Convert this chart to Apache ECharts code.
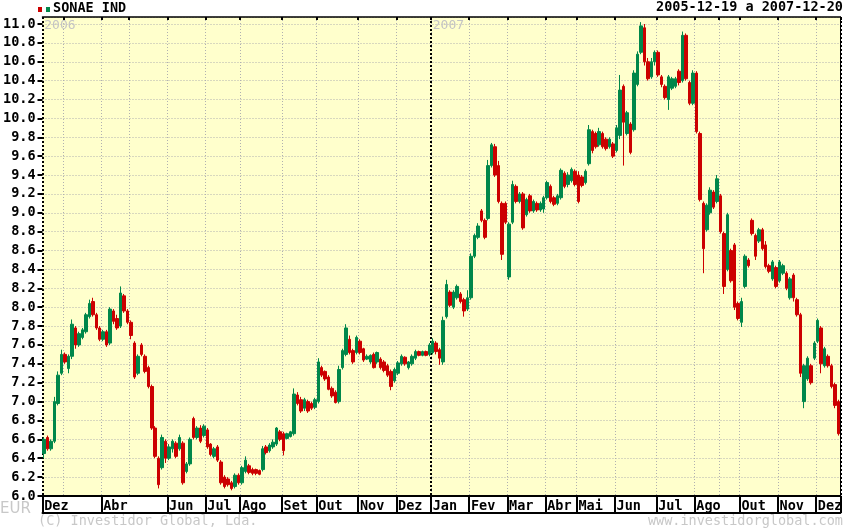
<!DOCTYPE html>
<html><head><meta charset="utf-8">
<script src="https://cdn.jsdelivr.net/npm/echarts@6/dist/echarts.min.js"></script>
<style>html,body{margin:0;padding:0;background:#fff}#c{width:845px;height:528px}</style>
</head><body><div id="c"></div>
<script>
const opens = [
6.45,6.62,6.5,6.58,6.98,7.3,7.5,7.35,7.48,7.78,
7.6,7.68,7.74,7.9,8.06,7.92,7.78,7.66,7.74,7.62,
7.96,7.88,7.8,8.12,7.96,7.84,7.62,7.3,7.6,7.48,
7.36,7.16,6.72,6.4,6.3,6.58,6.4,6.5,6.56,6.5,
6.56,6.26,6.34,6.82,6.62,6.72,6.64,6.7,6.55,6.42,
6.52,6.36,6.2,6.18,6.14,6.1,6.22,6.14,6.26,6.32,
6.28,6.28,6.27,6.28,6.52,6.48,6.52,6.55,6.68,6.66,
6.61,6.63,6.66,7.07,7.02,6.93,7.0,6.98,6.94,7.0,
7.36,7.32,7.26,7.14,7.1,7.0,7.36,7.5,7.66,7.54,
7.52,7.64,7.56,7.45,7.42,7.5,7.42,7.45,7.42,7.38,
7.32,7.22,7.3,7.4,7.47,7.36,7.4,7.46,7.53,7.49,
7.53,7.5,7.52,7.62,7.55,7.42,7.9,8.16,8.0,8.1,
8.14,8.08,7.98,8.1,8.54,8.74,9.02,8.92,8.94,9.5,
9.7,9.5,9.1,9.1,8.32,8.9,9.28,9.12,9.2,8.98,
9.18,9.02,9.1,9.03,9.04,9.16,9.28,9.16,9.1,9.16,
9.42,9.3,9.34,9.44,9.4,9.38,9.32,9.52,9.86,9.84,
9.72,9.84,9.78,9.7,9.73,9.66,9.82,10.34,9.84,9.94,
9.88,10.36,10.7,10.96,10.6,10.44,10.6,10.7,10.44,10.34,
10.2,10.32,10.34,10.5,10.4,10.88,10.38,10.16,10.48,9.84,
9.1,8.82,9.0,9.22,9.12,9.18,8.78,8.4,8.6,8.66,
8.04,7.84,8.22,8.5,8.92,8.76,8.7,8.82,8.66,8.44,
8.3,8.42,8.28,8.36,8.36,8.1,8.34,8.08,7.92,7.0,
7.24,7.38,7.46,7.64,7.78,7.38,7.48,7.38,7.18,7.0
];
const closes = [
6.6,6.5,6.58,7.0,7.28,7.5,7.42,7.48,7.82,7.6,
7.72,7.76,7.92,8.04,7.92,7.78,7.66,7.74,7.6,7.98,
7.85,7.78,8.15,7.96,7.84,7.7,7.26,7.48,7.5,7.32,
7.16,6.72,6.42,6.12,6.62,6.4,6.52,6.58,6.42,6.62,
6.14,6.34,6.6,6.62,6.72,6.58,6.74,6.52,6.44,6.5,
6.38,6.14,6.1,6.12,6.08,6.22,6.14,6.3,6.38,6.25,
6.24,6.24,6.23,6.5,6.46,6.54,6.57,6.72,6.6,6.48,
6.66,6.68,7.08,6.98,6.9,7.02,6.9,6.93,7.02,7.42,
7.28,7.24,7.13,7.06,6.99,7.34,7.54,7.78,7.52,7.42,
7.68,7.52,7.44,7.48,7.49,7.36,7.52,7.36,7.33,7.28,
7.16,7.34,7.41,7.48,7.4,7.42,7.48,7.53,7.49,7.53,
7.49,7.6,7.64,7.53,7.46,7.86,8.24,8.02,8.16,8.22,
8.06,7.96,8.1,8.54,8.76,8.86,8.92,8.74,9.5,9.72,
9.4,9.12,8.56,8.9,8.88,9.3,9.12,9.2,8.84,9.14,
9.02,9.12,9.03,9.1,9.16,9.32,9.12,9.09,9.18,9.45,
9.28,9.4,9.46,9.3,9.12,9.29,9.44,9.88,9.66,9.7,
9.86,9.7,9.68,9.78,9.6,9.9,10.3,9.96,10.06,9.64,
10.48,10.68,10.98,10.6,10.42,10.6,10.7,10.46,10.36,10.22,
10.44,10.42,10.42,10.38,10.88,10.42,10.16,10.48,9.86,9.14,
8.62,9.08,9.24,9.06,9.36,8.8,8.22,8.98,8.28,8.0,
7.88,8.06,8.54,8.44,8.78,8.54,8.82,8.62,8.43,8.38,
8.48,8.22,8.48,8.44,8.2,8.3,8.1,7.92,7.3,7.38,
7.46,7.2,7.62,7.86,7.4,7.56,7.38,7.16,6.96,6.66
];
const lows = [
6.4,6.48,6.48,6.56,6.96,7.28,7.4,7.3,7.45,7.56,
7.58,7.66,7.72,7.88,7.9,7.76,7.64,7.64,7.58,7.6,
7.82,7.76,7.78,7.94,7.82,7.66,7.24,7.28,7.48,7.3,
7.14,6.7,6.4,6.08,6.28,6.35,6.38,6.46,6.4,6.48,
6.12,6.24,6.32,6.6,6.6,6.56,6.62,6.5,6.42,6.4,
6.36,6.12,6.08,6.1,6.06,6.08,6.12,6.12,6.24,6.23,
6.22,6.22,6.22,6.26,6.44,6.46,6.5,6.53,6.58,6.43,
6.6,6.62,6.64,6.96,6.88,6.9,6.88,6.91,6.92,6.98,
7.26,7.22,7.12,7.04,6.98,6.98,7.34,7.48,7.5,7.4,
7.5,7.5,7.42,7.44,7.4,7.35,7.4,7.34,7.31,7.26,
7.12,7.2,7.28,7.38,7.38,7.34,7.38,7.44,7.48,7.48,
7.48,7.48,7.5,7.5,7.39,7.39,7.88,8.0,7.98,8.08,
8.04,7.9,7.96,8.08,8.52,8.72,8.9,8.72,8.92,9.48,
9.38,9.1,8.5,8.88,8.29,8.88,9.1,9.1,8.82,8.96,
9.0,9.0,9.01,9.01,9.0,9.14,9.1,9.07,9.08,9.14,
9.26,9.27,9.32,9.28,9.1,9.27,9.3,9.5,9.63,9.68,
9.7,9.68,9.66,9.68,9.58,9.64,9.78,9.5,9.82,9.62,
9.86,10.34,10.68,10.56,10.4,10.42,10.56,10.44,10.33,10.2,
10.09,10.3,10.32,10.35,10.38,10.4,10.14,10.14,9.84,9.12,
8.36,8.8,8.98,9.04,9.1,8.78,8.14,8.38,8.26,7.97,
7.86,7.79,8.2,8.42,8.76,8.5,8.68,8.6,8.41,8.36,
8.28,8.2,8.26,8.34,8.18,8.08,8.06,7.9,7.26,6.93,
7.22,7.18,7.44,7.62,7.3,7.36,7.36,7.14,6.93,6.64
];
const highs = [
6.62,6.64,6.6,7.05,7.32,7.55,7.52,7.5,7.87,7.8,
7.74,7.78,7.94,8.08,8.1,7.94,7.8,7.76,7.76,8.0,
7.98,7.92,8.22,8.14,7.98,7.86,7.64,7.5,7.62,7.5,
7.38,7.18,6.74,6.42,6.65,6.6,6.55,6.6,6.58,6.65,
6.58,6.36,6.62,6.84,6.74,6.75,6.76,6.72,6.56,6.52,
6.54,6.38,6.22,6.2,6.16,6.24,6.24,6.32,6.42,6.34,
6.3,6.29,6.28,6.53,6.54,6.56,6.6,6.73,6.7,6.68,
6.67,6.69,7.14,7.1,7.05,7.04,7.02,7.0,7.04,7.46,
7.38,7.33,7.28,7.16,7.12,7.38,7.56,7.82,7.7,7.56,
7.7,7.66,7.57,7.5,7.5,7.52,7.53,7.47,7.44,7.4,
7.34,7.36,7.43,7.5,7.48,7.43,7.5,7.55,7.54,7.54,
7.54,7.62,7.67,7.64,7.57,7.9,8.29,8.18,8.18,8.24,
8.16,8.1,8.18,8.57,8.78,8.89,9.04,8.94,9.56,9.74,
9.73,9.55,9.12,9.12,8.9,9.34,9.3,9.22,9.22,9.16,
9.2,9.14,9.12,9.12,9.18,9.34,9.3,9.18,9.2,9.47,
9.44,9.43,9.48,9.46,9.44,9.4,9.46,9.93,9.88,9.86,
9.9,9.86,9.8,9.8,9.75,9.93,10.46,10.36,10.08,9.96,
10.51,10.71,11.02,11.0,10.64,10.64,10.72,10.72,10.46,10.36,
10.46,10.44,10.44,10.52,10.92,10.9,10.4,10.51,10.5,9.86,
9.12,9.1,9.27,9.24,9.4,9.2,8.8,9.0,8.62,8.68,
8.06,8.1,8.56,8.52,8.94,8.78,8.84,8.84,8.7,8.46,
8.5,8.44,8.5,8.46,8.38,8.32,8.36,8.1,7.94,7.4,
7.48,7.4,7.64,7.88,7.8,7.58,7.5,7.4,7.2,7.02
];
// month boundaries (bar index where a month starts)
const monthTickIdx = [6,17,25,36,47,57,69,79,91,102,112,123,134,145,154,165,177,188,195,201,212,223];
const monthLabelIdx = [0,17,36,47,57,69,79,91,102,112,123,134,145,154,165,177,188,201,212,223];
const monthLabels = ['Dez','Abr','Jun','Jul','Ago','Set','Out','Nov','Dez','Jan','Fev','Mar','Abr','Mai','Jun','Jul','Ago','Out','Nov','Dez'];
const yearIdx = [0,112];
const yearLabels = ['2006','2007'];
const yMin = 6.0, yTop = 11.0, yStep = 0.2;

const categories = opens.map((_, i) => String(i));
const ohlc = opens.map((o, i) => [o, closes[i], lows[i], highs[i]]);
const tickSet = new Set(monthTickIdx);
const labelMap = {}; monthLabelIdx.forEach((k, j) => labelMap[k] = monthLabels[j]);
const yearMap = {}; yearIdx.forEach((k, j) => yearMap[k] = yearLabels[j]);

const FONT = 'DejaVu Sans Mono';
const UP = '#00874a', DOWN = '#cc0000';
const plotTop = 17, plotBottom = 496;
const yMax = yTop + (yTop - yMin) / (plotBottom - plotTop - 7) * 7;

const chart = echarts.init(document.getElementById('c'), null, {renderer: 'canvas'});
chart.setOption({
  animation: false,
  backgroundColor: '#ffffff',
  grid: {left: 38, right: 2, top: plotTop, bottom: 528 - plotBottom, show: true, backgroundColor: '#ffffcc', borderWidth: 0},
  xAxis: [
    { type: 'category', data: categories, position: 'bottom',
      axisLine: {show: true, lineStyle: {color: '#000', width: 2}},
      axisTick: {show: true, length: 17, interval: (i) => labelMap[i] !== undefined, lineStyle: {color: '#000', width: 2}},
      axisLabel: {show: true, interval: (i) => labelMap[i] !== undefined, formatter: (v, i) => labelMap[i] || '',
        align: 'left', margin: 3, color: '#000', fontFamily: FONT, fontWeight: 'bold', fontSize: 13.5},
      splitLine: {show: true, interval: (i) => tickSet.has(i), lineStyle: {color: '#b0b0b0', width: 1, type: [1, 2]}}
    },
    { type: 'category', data: categories, position: 'top',
      axisLine: {show: true, lineStyle: {color: '#000', width: 1.5}},
      axisTick: {show: true, inside: true, length: 3, interval: (i) => tickSet.has(i), lineStyle: {color: '#000', width: 2}},
      axisLabel: {show: true, inside: true, interval: (i) => yearMap[i] !== undefined, formatter: (v, i) => yearMap[i] || '',
        align: 'left', margin: 2, color: '#c4c4c4', fontFamily: FONT, fontSize: 13},
      splitLine: {show: false}
    },
    { type: 'category', data: categories, position: 'top',
      axisLine: {show: false}, axisTick: {show: false}, axisLabel: {show: false},
      splitLine: {show: true, interval: (i) => yearMap[i] !== undefined, lineStyle: {color: '#000', width: 2, type: [2, 2]}}
    },
    { type: 'category', data: categories, position: 'bottom', offset: 17,
      axisLine: {show: true, lineStyle: {color: '#000', width: 2}},
      axisTick: {show: false}, axisLabel: {show: false}, splitLine: {show: false}
    }
  ],
  yAxis: [
    { type: 'value', min: yMin, max: yMax, interval: yStep, position: 'left',
      axisLine: {show: false},
      axisTick: {show: true, length: 5, lineStyle: {color: '#000', width: 2}},
      axisLabel: {show: true, showMaxLabel: false, margin: 7, formatter: (v) => v.toFixed(1),
        color: '#000', fontFamily: FONT, fontWeight: 'bold', fontSize: 13.5},
      splitLine: {show: true, lineStyle: {color: '#b0b0b0', width: 1, type: [1, 2]}}
    },
    { type: 'value', min: yMin, max: yMax, position: 'right',
      axisLine: {show: true, lineStyle: {color: '#000', width: 1}},
      axisTick: {show: false}, axisLabel: {show: false}, splitLine: {show: false}
    }
  ],
  series: [{
    type: 'candlestick', xAxisIndex: 0, yAxisIndex: 0, data: ohlc, barWidth: 3,
    itemStyle: {color: UP, color0: DOWN, borderColor: UP, borderColor0: DOWN, borderWidth: 1}
  }],
  graphic: [
    {type: 'rect', shape: {x: 38, y: 7, width: 4, height: 5}, style: {fill: DOWN}},
    {type: 'rect', shape: {x: 46, y: 7, width: 4, height: 5}, style: {fill: UP}},
    {type: 'text', x: 53, y: 8, style: {text: 'SONAE IND', fill: '#000', font: 'bold 13.5px ' + FONT, textVerticalAlign: 'middle'}},
    {type: 'text', x: 843, y: 7, style: {text: '2005-12-19 a 2007-12-20', fill: '#000', font: 'bold 13.5px ' + FONT, textAlign: 'right', textVerticalAlign: 'middle'}},
    {type: 'text', x: 0, y: 509, style: {text: 'EUR', fill: '#c8c8c8', font: '15px DejaVu Sans', textVerticalAlign: 'middle'}},
    {type: 'text', x: 38, y: 521, style: {text: '(C) Investidor Global, Lda.', fill: '#c8c8c8', font: '13.5px ' + FONT, textVerticalAlign: 'middle'}},
    {type: 'text', x: 843, y: 521, style: {text: 'www.investidorglobal.com', fill: '#c8c8c8', font: '13.5px ' + FONT, textAlign: 'right', textVerticalAlign: 'middle'}}
  ]
});
</script>
</body></html>
